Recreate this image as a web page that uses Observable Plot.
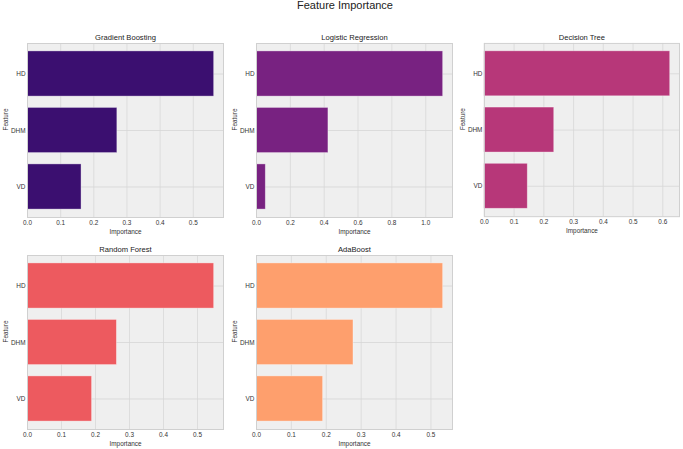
<!DOCTYPE html>
<html>
<head>
<meta charset="utf-8">
<script src="https://cdn.jsdelivr.net/npm/d3@7"></script>
<script src="https://cdn.jsdelivr.net/npm/@observablehq/plot@0.6"></script>
<style>
  html, body { margin: 0; padding: 0; background: #ffffff; }
  #chart { position: relative; width: 683px; height: 449px; font-family: "Liberation Sans", Arial, sans-serif; overflow: hidden; }
  #title { position: absolute; left: 345px; top: -1px; transform: translateX(-50%); font-size: 11px; line-height: 13px; color: #222; white-space: nowrap; }
  .panel { position: absolute; }
</style>
</head>
<body>
<div id="chart"><div id="title">Feature Importance</div></div>
<script>
// ---- data ----
const features = ["HD", "DHM", "VD"];
const models = ["Gradient Boosting", "Logistic Regression", "Decision Tree", "Random Forest", "AdaBoost"];
const gradientBoosting = [0.563, 0.271, 0.163];
const logisticRegression = [1.103, 0.425, 0.055];
const decisionTree = [0.625, 0.235, 0.146];
const randomForest = [0.549, 0.263, 0.190];
const adaBoost = [0.535, 0.278, 0.191];
const ticksGB = [0, 0.1, 0.2, 0.3, 0.4, 0.5];
const ticksLR = [0, 0.2, 0.4, 0.6, 0.8, 1.0];
const ticksDT = [0, 0.1, 0.2, 0.3, 0.4, 0.5, 0.6];
const ticksRF = [0, 0.1, 0.2, 0.3, 0.4, 0.5];
const ticksAB = [0, 0.1, 0.2, 0.3, 0.4, 0.5];

// ---- layout / style ----
const seriesValues = [gradientBoosting, logisticRegression, decisionTree, randomForest, adaBoost];
const seriesTicks = [ticksGB, ticksLR, ticksDT, ticksRF, ticksAB];
const colors = [0.2, 0.35, 0.5, 0.65, 0.8].map(t => d3.interpolateMagma(t));
const plotLefts = [27, 255.5, 484, 27, 255.5];
const plotTops = [43, 43, 43, 254.5, 254.5];
const innerW = 196, innerH = 174;
const mL = 32, mR = 4, mT = 16, mB = 22;

const chart = document.getElementById("chart");

models.forEach((name, i) => {
  const vals = seriesValues[i];
  const rows = features.map((f, j) => ({feature: f, value: vals[j]}));
  const xmax = d3.max(vals) * 1.05;
  const plot = Plot.plot({
    width: innerW + mL + mR,
    height: innerH + mT + mB,
    marginLeft: mL, marginRight: mR, marginTop: mT, marginBottom: mB,
    style: {fontFamily: "'Liberation Sans', Arial, sans-serif", background: "transparent", overflow: "visible"},
    x: {domain: [0, xmax], nice: false},
    y: {domain: features, paddingInner: 0.2, paddingOuter: 0.14, align: 0.5, round: false},
    marks: [
      Plot.frame({fill: "#efefef", stroke: null}),
      Plot.gridX({ticks: seriesTicks[i], stroke: "#d8d8d8", strokeOpacity: 1, strokeWidth: 0.8}),
      Plot.gridY({stroke: "#d6d6d6", strokeOpacity: 1, strokeWidth: 0.8}),
      Plot.barX(rows, {x: "value", y: "feature", fill: colors[i], stroke: "#ffffff", strokeOpacity: 0.45, strokeWidth: 0.8}),
      Plot.frame({stroke: "#d0d0d0", strokeWidth: 1}),
      Plot.axisX({ticks: seriesTicks[i], tickSize: 0, tickPadding: 2.5, tickFormat: d3.format(".1f"), fontSize: 6.4, fill: "#333", label: null}),
      Plot.axisY({tickSize: 0, tickPadding: 2, fontSize: 6.4, fill: "#333", label: null}),
      Plot.text([name], {text: d => d, frameAnchor: "top", lineAnchor: "middle", dy: -6, fontSize: 7.6, fill: "#222"}),
      Plot.text(["Importance"], {text: d => d, frameAnchor: "bottom", lineAnchor: "middle", dy: 14, fontSize: 6.4, fill: "#333"}),
      Plot.text(["Feature"], {text: d => d, frameAnchor: "left", lineAnchor: "middle", dx: -22, rotate: -90, fontSize: 6.4, fill: "#333"})
    ]
  });
  const div = document.createElement("div");
  div.className = "panel";
  div.style.left = (plotLefts[i] - mL) + "px";
  div.style.top = (plotTops[i] - mT) + "px";
  div.appendChild(plot);
  chart.appendChild(div);
});
</script>
</body>
</html>
